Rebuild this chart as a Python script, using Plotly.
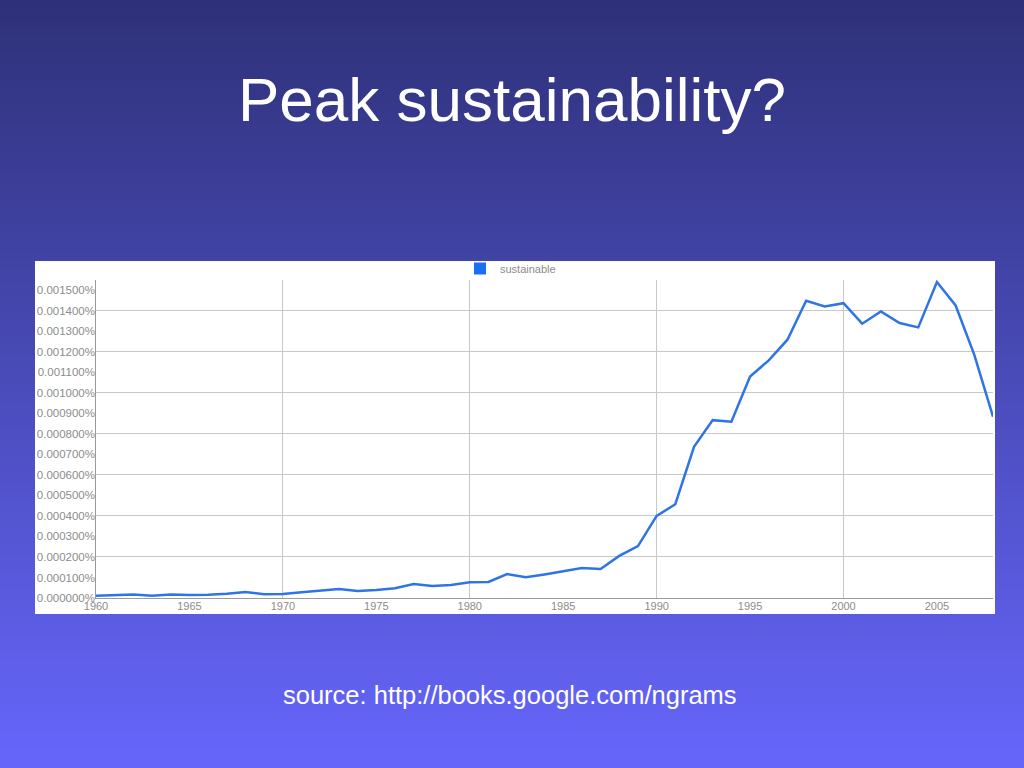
import base64
import struct
import zlib
import plotly.graph_objects as go

# ---------------- data ----------------
years = list(range(1960, 2009))
sustainable = [
    0.000011, 0.000013, 0.000017, 0.000011, 0.000017, 0.000015, 0.000016, 0.000021,
    0.000029, 0.000018, 0.000019, 0.000028, 0.000036, 0.000044, 0.000034, 0.000039,
    0.000048, 0.000068, 0.000059, 0.000063, 0.000077, 0.000078, 0.000117, 0.000101,
    0.000115, 0.000132, 0.000146, 0.000141, 0.000205, 0.000253, 0.000400, 0.000457,
    0.000737, 0.000867, 0.000859, 0.001080, 0.001158, 0.001259, 0.001449, 0.001421,
    0.001437, 0.001337, 0.001397, 0.001340, 0.001319, 0.001540, 0.001426, 0.001185,
    0.000884,
]
series_name = "sustainable"
title_text = "Peak sustainability?"
source_text = "source: http://books.google.com/ngrams"

# ---------------- layout geometry (pixels) ----------------
W, H = 1024, 768
L, R, T, B = 96, 993, 280, 598
PW, PH = R - L, B - T


def px_x(p):
    return (p - L) / PW


def px_y(p):
    return (B - p) / PH


def gradient_uri(width, height, top, bottom):
    raw = bytearray()
    for r in range(height):
        t = r / (height - 1)
        c = bytes(int(round(top[i] + (bottom[i] - top[i]) * t)) for i in range(3))
        raw += b"\x00" + c * width

    def chunk(tag, data):
        return (struct.pack(">I", len(data)) + tag + data
                + struct.pack(">I", zlib.crc32(tag + data) & 0xFFFFFFFF))

    png = (b"\x89PNG\r\n\x1a\n"
           + chunk(b"IHDR", struct.pack(">IIBBBBB", width, height, 8, 2, 0, 0, 0))
           + chunk(b"IDAT", zlib.compress(bytes(raw)))
           + chunk(b"IEND", b""))
    return "data:image/png;base64," + base64.b64encode(png).decode()


FONT = "Liberation Sans, Arial, Helvetica, sans-serif"
LINE_BLUE = "#2f74e6"
GRID = "#c8c8c8"
AXIS = "#999999"
LABEL = "#8c8c8c"
yr = [0, 0.00155]
xr = [1960, 2008]

fig = go.Figure()
fig.add_trace(go.Scatter(
    x=years, y=sustainable, mode="lines", name=series_name,
    line=dict(color=LINE_BLUE, width=2.5), showlegend=False,
))
# legend swatch (square), also anchors the label axes
fig.add_trace(go.Scatter(
    x=[None], y=[None], mode="markers", name=series_name,
    marker=dict(symbol="square", size=12, color="#1a6ff2"),
    xaxis="x2", yaxis="y2", showlegend=True, hoverinfo="skip",
))

fig.update_layout(
    width=W, height=H,
    margin=dict(l=L, r=W - R, t=T, b=H - B, pad=0),
    paper_bgcolor="#4a4ab0",
    plot_bgcolor="rgba(0,0,0,0)",
    font=dict(family=FONT),
    showlegend=True,
    legend=dict(
        orientation="h", x=px_x(460), y=px_y(254), xanchor="left", yanchor="top",
        bgcolor="rgba(0,0,0,0)", font=dict(size=11, color=LABEL, family=FONT),
        itemclick=False, itemdoubleclick=False,
    ),
    xaxis=dict(
        range=xr, tick0=1960, dtick=10, showgrid=True, gridcolor=GRID, gridwidth=1,
        showticklabels=False, showline=True, linecolor=AXIS, linewidth=1,
        zeroline=False, ticks="", fixedrange=True,
    ),
    xaxis2=dict(
        overlaying="x", anchor="y", side="bottom", range=xr, tick0=1960, dtick=5,
        showgrid=False, showline=False, zeroline=False, ticks="",
        tickfont=dict(size=11, color=LABEL, family=FONT), fixedrange=True,
    ),
    yaxis=dict(
        range=yr, tick0=0, dtick=0.0002, showgrid=True, gridcolor=GRID, gridwidth=1,
        showticklabels=False, showline=True, linecolor=AXIS, linewidth=1,
        zeroline=False, ticks="", fixedrange=True,
    ),
    yaxis2=dict(
        overlaying="y", anchor="x", side="left", range=yr, tick0=0, dtick=0.0001,
        tickformat=".6f", ticksuffix="%", showgrid=False, showline=False,
        zeroline=False, ticks="", tickfont=dict(size=11.5, color=LABEL, family=FONT),
        fixedrange=True,
    ),
    images=[dict(
        source=gradient_uri(4, H, (46, 49, 120), (102, 102, 252)),
        xref="paper", yref="paper", x=px_x(0), y=px_y(0),
        sizex=W / PW, sizey=H / PH, xanchor="left", yanchor="top",
        sizing="stretch", layer="below",
    )],
    shapes=[dict(
        type="rect", xref="paper", yref="paper",
        x0=px_x(35), x1=px_x(995), y0=px_y(614), y1=px_y(261),
        fillcolor="white", line=dict(width=0), layer="below",
    )],
    annotations=[
        dict(text=title_text, xref="paper", yref="paper", x=px_x(512), y=px_y(100),
             xanchor="center", yanchor="middle", showarrow=False,
             font=dict(size=62, color="white", family=FONT)),
        dict(text=source_text, xref="paper", yref="paper", x=px_x(510), y=px_y(695),
             xanchor="center", yanchor="middle", showarrow=False,
             font=dict(size=25.5, color="white", family=FONT)),
    ],
)

fig.write_html(
    "out.html",
    config={"displayModeBar": False},
    post_script="document.body.style.margin='0';document.body.style.padding='0';",
)
